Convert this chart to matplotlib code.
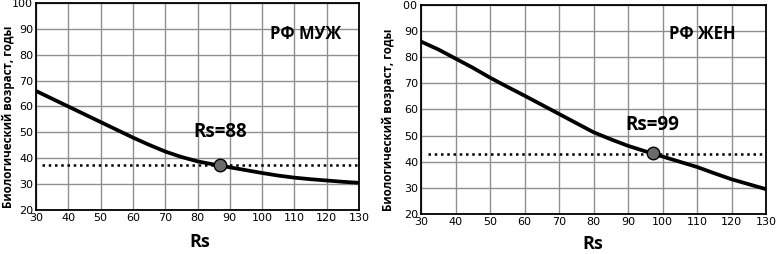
import matplotlib
matplotlib.use("Agg")
import matplotlib.pyplot as plt
from matplotlib.patches import Rectangle

# --- data ---
rs = [30, 35, 40, 45, 50, 55, 60, 65, 70, 75, 80,
      85, 90, 95, 100, 105, 110, 115, 120, 125, 130]
age_male = [66, 63, 60, 57, 54, 51, 48, 45.2, 42.6, 40.5, 38.8,
            37.6, 36.5, 35.4, 34.3, 33.3, 32.5, 31.9, 31.4, 30.9, 30.5]
age_female = [86, 83, 79.5, 76, 72.2, 68.7, 65.3, 61.8, 58.3, 54.8, 51.3,
              48.6, 46.1, 44.0, 42.0, 40.0, 38.0, 35.6, 33.3, 31.4, 29.5]

male_point = (87, 37.5)
female_point = (97.3, 43.5)
male_level = 37.5
female_level = 42.8

male_title = "РФ МУЖ"
female_title = "РФ ЖЕН"
male_note = "Rs=88"
female_note = "Rs=99"
xlabel = "Rs"
ylabel = "Биологический возраст, годы"

xticks = list(range(30, 131, 10))
yticks = list(range(20, 101, 10))

W, H = 777, 254
fig = plt.figure(figsize=(W / 100, H / 100), dpi=100)
fig.patch.set_facecolor("white")

label_font = dict(family="Open Sans", weight="bold")
tick_font = ["Liberation Sans Narrow", "DejaVu Sans"]


def draw_panel(rect, ages, point, level, title, title_xy, note, note_xy,
               xl_coords, yl_coords):
    ax = fig.add_axes(rect)
    ax.set_xlim(30, 130)
    ax.set_ylim(20, 100)
    ax.set_xticks(xticks)
    ax.set_yticks(yticks)
    ax.grid(True, color="#8f8f8f", linewidth=1.0)
    ax.set_axisbelow(True)
    for sp in ax.spines.values():
        sp.set_linewidth(1.3)
        sp.set_color("black")
    ax.tick_params(length=0, pad=2)
    for lbl in ax.get_xticklabels() + ax.get_yticklabels():
        lbl.set_family(tick_font)
        lbl.set_fontsize(8)

    ax.plot(rs, ages, color="black", linewidth=2.7, solid_capstyle="butt",
            solid_joinstyle="round")
    ax.plot([32, 130], [level, level], color="black", linestyle=(0, (1, 1.5)),
            linewidth=1.8)
    ax.plot([point[0]], [point[1]], marker="o", markersize=9,
            markerfacecolor="#6b6b6b", markeredgecolor="black",
            markeredgewidth=1.0, zorder=5)

    ax.text(title_xy[0], title_xy[1], title, fontsize=12, ha="center",
            va="center", **label_font)
    ax.text(note_xy[0], note_xy[1], note, fontsize=13.5, ha="center",
            va="center", **label_font)

    ax.set_xlabel(xlabel, fontsize=13, **label_font)
    ax.xaxis.set_label_coords(*xl_coords)
    ax.set_ylabel(ylabel, fontsize=8.4, **label_font)
    ax.yaxis.set_label_coords(*yl_coords)
    return ax


def frac(x0, y0, x1, y1):
    return [x0 / W, 1 - y1 / H, (x1 - x0) / W, (y1 - y0) / H]


ax1 = draw_panel(frac(36, 3, 359, 210), age_male, male_point, male_level,
                 male_title, (113.5, 88), male_note, (87, 50.3),
                 (0.508, -0.11), (-0.065, 0.45))
ax2 = draw_panel(frac(421, 5, 766, 214), age_female, female_point, female_level,
                 female_title, (111.5, 89), female_note, (97, 53.9),
                 (0.4986, -0.10), (-0.075, 0.45))

# the source image cuts off the leading "1" of the right panel's top label
clip = Rectangle((403.5 / W, 0), 1, 1, transform=fig.transFigure, visible=False)
fig.add_artist(clip)
fig.canvas.draw()
ax2.get_yticklabels()[-1].set_clip_path(clip)

fig.savefig("out.png", dpi=100)
